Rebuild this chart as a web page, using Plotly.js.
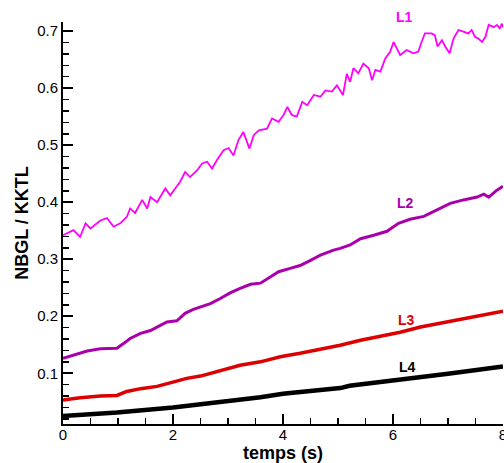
<!DOCTYPE html>
<html>
<head>
<meta charset="utf-8">
<script src="https://cdn.plot.ly/plotly-3.0.1.min.js"></script>
<style>html,body{margin:0;padding:0;background:#fff;}#chart{width:504px;height:463px;}</style>
</head>
<body>
<div id="chart"></div>
<script>
// Time (s) and NBGL / KKTL values
const tL1 = [0, 0.13, 0.19, 0.31, 0.41, 0.5, 0.68, 0.8, 0.92, 1.04, 1.16, 1.22, 1.31, 1.44, 1.53, 1.59, 1.71, 1.86, 1.95, 2.04, 2.13, 2.22, 2.31, 2.44, 2.53, 2.62, 2.71, 2.80, 2.92, 3.01, 3.10, 3.19, 3.28, 3.39, 3.47, 3.56, 3.71, 3.80, 3.92, 4.01, 4.08, 4.16, 4.25, 4.35, 4.44, 4.56, 4.68, 4.77, 4.89, 4.98, 5.04, 5.09, 5.16, 5.22, 5.28, 5.37, 5.46, 5.56, 5.62, 5.68, 5.77, 5.86, 5.95, 6.01, 6.13, 6.25, 6.37, 6.46, 6.52, 6.58, 6.70, 6.76, 6.81, 6.89, 6.95, 7.03, 7.10, 7.19, 7.28, 7.37, 7.43, 7.49, 7.55, 7.62, 7.68, 7.74, 7.83, 7.89, 7.94, 7.98, 8.0];
const vL1 = [0.342, 0.348, 0.351, 0.339, 0.363, 0.354, 0.368, 0.372, 0.357, 0.363, 0.374, 0.389, 0.381, 0.404, 0.389, 0.409, 0.400, 0.424, 0.412, 0.424, 0.436, 0.453, 0.444, 0.456, 0.468, 0.471, 0.459, 0.474, 0.491, 0.495, 0.482, 0.509, 0.523, 0.494, 0.518, 0.526, 0.529, 0.547, 0.541, 0.553, 0.567, 0.553, 0.550, 0.576, 0.570, 0.588, 0.585, 0.596, 0.594, 0.605, 0.596, 0.588, 0.625, 0.611, 0.635, 0.626, 0.643, 0.635, 0.614, 0.632, 0.629, 0.652, 0.664, 0.681, 0.658, 0.667, 0.661, 0.664, 0.681, 0.696, 0.696, 0.693, 0.673, 0.684, 0.673, 0.661, 0.687, 0.702, 0.699, 0.696, 0.702, 0.690, 0.687, 0.681, 0.690, 0.711, 0.707, 0.711, 0.705, 0.713, 0.707];

const tL2 = [0, 0.19, 0.44, 0.68, 0.86, 0.98, 1.10, 1.22, 1.41, 1.59, 1.77, 1.89, 2.07, 2.22, 2.37, 2.50, 2.68, 2.86, 3.04, 3.22, 3.41, 3.59, 3.77, 3.92, 4.13, 4.31, 4.50, 4.68, 4.92, 5.04, 5.22, 5.41, 5.65, 5.89, 6.10, 6.31, 6.56, 6.80, 7.04, 7.28, 7.53, 7.65, 7.74, 7.89, 8.0];
const vL2 = [0.126, 0.132, 0.139, 0.143, 0.143, 0.144, 0.152, 0.161, 0.170, 0.175, 0.184, 0.190, 0.192, 0.205, 0.212, 0.216, 0.222, 0.231, 0.241, 0.249, 0.256, 0.258, 0.269, 0.278, 0.284, 0.289, 0.298, 0.307, 0.316, 0.319, 0.325, 0.336, 0.342, 0.349, 0.363, 0.370, 0.375, 0.387, 0.398, 0.404, 0.409, 0.414, 0.409, 0.421, 0.428];

const tL3 = [0, 0.31, 0.68, 0.98, 1.16, 1.41, 1.71, 2.01, 2.25, 2.50, 2.86, 3.22, 3.59, 3.95, 4.31, 4.68, 5.04, 5.41, 5.77, 6.13, 6.50, 6.86, 7.22, 7.59, 8.0];
const vL3 = [0.053, 0.057, 0.060, 0.061, 0.068, 0.073, 0.077, 0.084, 0.091, 0.095, 0.105, 0.114, 0.120, 0.129, 0.135, 0.142, 0.149, 0.158, 0.165, 0.172, 0.181, 0.188, 0.195, 0.201, 0.209];

const tL4 = [0, 0.98, 2.0, 2.67, 2.92, 3.59, 4.0, 5.04, 5.21, 6.0, 7.0, 8.0];
const vL4 = [0.025, 0.031, 0.040, 0.047, 0.051, 0.058, 0.064, 0.074, 0.078, 0.087, 0.099, 0.112];

const seriesNames = ["L1", "L2", "L3", "L4"];
const seriesColors = ["#ff00ff", "#aa00aa", "#dd0000", "#000000"];
const seriesWidths = [1.8, 3, 3.5, 4.5];
const labelX = [6.21, 6.22, 6.25, 6.27];
const labelY = [0.725, 0.398, 0.193, 0.111];

const yRange = [0.011, 0.716];
const xs = [tL1, tL2, tL3, tL4];
const ys = [vL1, vL2, vL3, vL4];

const traces = seriesNames.map((n, i) => ({
  x: xs[i], y: ys[i], type: 'scatter', mode: 'lines', name: n,
  line: {color: seriesColors[i], width: seriesWidths[i]},
  hoverinfo: 'skip'
})).reverse();

const fontFam = 'Liberation Sans, Arial, Helvetica, sans-serif';

// label values converted to paper fraction so the L1 label (above the axis top) is kept
const annotations = seriesNames.map((n, i) => ({
  x: labelX[i], xref: 'x',
  y: (labelY[i] - yRange[0]) / (yRange[1] - yRange[0]), yref: 'paper',
  text: '<b>' + n + '</b>', showarrow: false,
  font: {family: fontFam, size: 14, color: seriesColors[i]},
  xanchor: 'center', yanchor: 'middle'
}));

const layout = {
  width: 504, height: 463,
  margin: {l: 63, r: 1, t: 22, b: 39},
  paper_bgcolor: '#fff', plot_bgcolor: '#fff',
  showlegend: false,
  font: {family: fontFam, size: 15, color: '#000'},
  xaxis: {
    range: [0, 8], dtick: 2, tick0: 0,
    showgrid: false, zeroline: false,
    showline: true, linecolor: '#000', linewidth: 2,
    ticks: 'inside', ticklen: 10, tickwidth: 2, tickcolor: '#000',
    minor: {dtick: 0.5, ticks: 'inside', ticklen: 6, tickwidth: 1.5, tickcolor: '#000', showgrid: false},
    tickfont: {family: fontFam, size: 15, color: '#000'},
    ticklabeloverflow: 'allow',
    ticklabelstandoff: -4,
    title: {text: '<b>temps (s)</b>', font: {family: fontFam, size: 18, color: '#000'}, standoff: 0}
  },
  yaxis: {
    range: yRange, dtick: 0.1, tick0: 0,
    showgrid: false, zeroline: false,
    showline: true, linecolor: '#000', linewidth: 2,
    ticks: 'inside', ticklen: 10, tickwidth: 2, tickcolor: '#000',
    minor: {dtick: 0.02, ticks: 'inside', ticklen: 6, tickwidth: 1.5, tickcolor: '#000', showgrid: false},
    tickfont: {family: fontFam, size: 15, color: '#000'},
    title: {text: '<b>NBGL / KKTL</b>', font: {family: fontFam, size: 18, color: '#000'}, standoff: 4}
  },
  annotations: annotations
};

Plotly.newPlot('chart', traces, layout, {displayModeBar: false, staticPlot: true});
</script>
</body>
</html>
